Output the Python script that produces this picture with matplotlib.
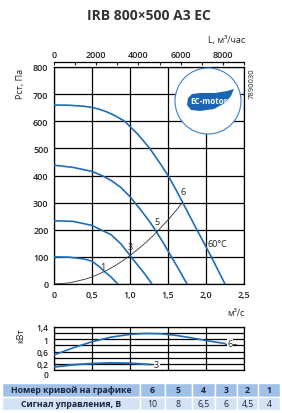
import numpy as np
import matplotlib.pyplot as plt
from matplotlib.patches import Ellipse, Polygon, Rectangle

plt.rcParams['font.family'] = ['Open Sans', 'DejaVu Sans']

# pressure curves, Q in m3/s, P in Pa
q1 = [0, 0.2, 0.4, 0.5, 0.6, 0.66, 0.75, 0.84]
p1 = [100, 99, 92, 84, 63, 47, 26, 0]
q3 = [0, 0.25, 0.5, 0.6, 0.75, 0.88, 1.01, 1.1, 1.2, 1.29]
p3 = [233, 231, 216, 202, 182, 148, 102, 70, 35, 0]
q5 = [0, 0.25, 0.5, 0.63, 0.75, 0.88, 1.0, 1.15, 1.26, 1.34, 1.45, 1.55, 1.65, 1.75]
p5 = [438, 430, 415, 400, 382, 356, 322, 270, 229, 196, 146, 98, 50, 0]
q6 = [0, 0.2, 0.4, 0.5, 0.6, 0.7, 0.8, 0.93, 1.1, 1.26, 1.4, 1.5, 1.6, 1.69, 1.88, 2.07, 2.25]
p6 = [660, 659, 655, 651, 644, 634, 621, 600, 553, 500, 443, 400, 350, 302, 200, 100, 0]
# system curve
q_sys = [0, 0.2, 0.4, 0.5, 0.6, 0.7, 0.8, 0.9, 1.0, 1.1, 1.2, 1.3, 1.4, 1.5, 1.6, 1.69]
p_sys = [0, 4, 17, 26, 38, 51, 67, 85, 105, 127, 151, 177, 206, 236, 269, 300]

# power curves, kW
qw6 = [0, 0.25, 0.5, 0.75, 1.0, 1.2, 1.4, 1.6, 1.8, 2.0, 2.25]
w6 = [0.49, 0.72, 0.92, 1.07, 1.16, 1.19, 1.18, 1.13, 1.05, 0.96, 0.86]
qw3 = [0, 0.25, 0.5, 0.75, 1.0, 1.26]
w3 = [0.1, 0.17, 0.21, 0.23, 0.22, 0.18]

curve_numbers = ['6', '5', '4', '3', '2', '1']
signals = ['10', '8', '6,5', '6', '4,5', '4']

blue = '#1f6db8'
W, H = 282, 414
fig = plt.figure(figsize=(W / 100, H / 100), dpi=100)


def box(l, t, r, b):
    return [l / W, 1 - b / H, (r - l) / W, (b - t) / H]


def comma(v):
    return ('%g' % v).replace('.', ',')


fig.text(149 / W, 1 - 16 / H, 'IRB 800×500 A3 EC', ha='center', va='center',
         fontsize=10, fontweight='bold', color='#333333')

# main chart
ax = fig.add_axes(box(54, 68, 244, 285))
ax.set_xlim(0, 2.5)
ax.set_ylim(0, 800)
xt = [0, 0.5, 1.0, 1.5, 2.0, 2.5]
ax.set_xticks(xt)
ax.set_xticklabels(['0', '0,5', '1,0', '1,5', '2,0', '2,5'])
ax.set_yticks(range(0, 801, 100))
ax.grid(color='black', lw=0.9)
ax.tick_params(length=0, labelsize=6.5, pad=4, colors='#222222')
for lab in ax.get_xticklabels() + ax.get_yticklabels():
    lab.set_fontweight('semibold')
for s in ax.spines.values():
    s.set_linewidth(0.9)

for q, p in [(q1, p1), (q3, p3), (q5, p5), (q6, p6)]:
    ax.plot(q, p, color=blue, lw=1.2, zorder=3)
ax.plot(q_sys, p_sys, color='#333333', lw=0.6, zorder=3)

for txt, x, y in [('1', 0.645, 66), ('3', 1.0, 140), ('5', 1.355, 232), ('6', 1.70, 340)]:
    ax.text(x, y, txt, fontsize=6.5, ha='center', va='center', color='#222222', zorder=4)
ax.text(2.02, 150, '60°C', fontsize=6.5, ha='left', va='center', color='#222222', zorder=4)

sec = ax.secondary_xaxis(1 + 5 / 217, functions=(lambda q: q * 3600, lambda l: l / 3600))
sec.set_xticks(np.arange(0, 9001, 1000))
sec.set_xticklabels(['0', '', '2000', '', '4000', '', '6000', '', '8000', ''])
sec.tick_params(direction='in', length=2.5, width=0.8, labelsize=6.5, pad=2, colors='#222222')
for lab in sec.get_xticklabels():
    lab.set_fontweight('semibold')
sec.spines['top'].set_linewidth(0.9)

fig.text(245 / W, 1 - 41 / H, 'L, м³/час', ha='right', va='center', fontsize=6.5, color='#222222')
fig.text(21 / W, 1 - 84 / H, 'Рст, Па', rotation=90, ha='center', va='center', fontsize=6.5, color='#222222')
fig.text(252 / W, 1 - 84 / H, '7890030', rotation=90, ha='center', va='center', fontsize=5.5, color='#222222')
fig.text(244 / W, 1 - 314 / H, 'м³/с', ha='right', va='center', fontsize=6.5, color='#222222')


# EC-motor logo
def px(x, y):
    return ((x - 54) / 76.0, (285 - y) / 0.27125)


cx, cy = px(208, 102)
ax.add_patch(Ellipse((cx, cy), 66 / 76.0, 66 / 0.27125, facecolor='white',
                     edgecolor='#3a80c8', lw=0.8, zorder=5))
leaf = [(187, 106), (188, 99), (192, 95), (200, 94), (215, 94), (227, 92), (234, 90),
        (231, 97), (225, 104), (214, 110), (200, 112), (191, 111)]
ax.add_patch(Polygon([px(*p) for p in leaf], closed=True, facecolor='#1b65b4',
                     edgecolor='none', zorder=6))
ax.text(*px(209, 102), 'EC-motor', color='white', fontsize=5.8, fontweight='bold',
        ha='center', va='center', zorder=7)

# power chart
axw = fig.add_axes(box(54, 328, 244, 371))
axw.set_xlim(0, 2.5)
axw.set_ylim(0, 1.4)
axw.set_xticks(xt)
axw.set_xticklabels([])
wt = [0, 0.2, 0.4, 0.6, 0.8, 1.0, 1.2, 1.4]
axw.set_yticks(wt)
axw.set_yticklabels([comma(v) if v in (0, 0.2, 0.6, 1.0, 1.4) else '' for v in wt])
axw.grid(color='black', lw=0.9)
axw.tick_params(length=0, labelsize=6, pad=4, colors='#222222')
for lab in axw.get_yticklabels():
    lab.set_fontweight('semibold')
axw.get_yticklabels()[0].set_va('top')
for s in axw.spines.values():
    s.set_linewidth(0.9)
axw.plot(qw6, w6, color=blue, lw=1.2, zorder=3)
axw.plot(qw3, w3, color=blue, lw=1.4, zorder=3)
axw.plot([qw6[-1], 2.40], [w6[-1], w6[-1]], color='#333333', lw=0.6, zorder=3)
axw.plot([qw3[-1], 1.40], [w3[-1], w3[-1]], color='#333333', lw=0.6, zorder=3)
axw.text(2.32, w6[-1], '6', fontsize=6.5, ha='center', va='center', color='#222222',
         zorder=4, bbox=dict(facecolor='white', edgecolor='none', pad=0.3))
axw.text(1.35, w3[-1], '3', fontsize=6.5, ha='center', va='center', color='#222222',
         zorder=4, bbox=dict(facecolor='white', edgecolor='none', pad=0.3))
fig.text(21 / W, 1 - 336 / H, 'кВт', rotation=90, ha='center', va='center', fontsize=6.5, color='#222222')

# table
axt = fig.add_axes(box(0, 384, 282, 411))
axt.set_xlim(0, 282)
axt.set_ylim(27, 0)
axt.axis('off')
edges = [2, 140, 165, 192, 215, 237, 258, 280]
rows = [('Номер кривой на графике', curve_numbers, '#9fc1e7'),
        ('Сигнал управления, В', signals, '#d3e3f5')]
for r, (head, vals, col) in enumerate(rows):
    y0 = r * 13.5
    cells = [head] + vals
    for i, t in enumerate(cells):
        axt.add_patch(Rectangle((edges[i], y0), edges[i + 1] - edges[i], 13.5,
                                facecolor=col, edgecolor='white', lw=1))
        axt.text((edges[i] + edges[i + 1]) / 2, y0 + 6.9, t, ha='center', va='center',
                 fontsize=6.3, fontweight='bold' if (r == 0 or i == 0) else 'normal',
                 color='#1c2540')

fig.savefig('out.png', dpi=100)
